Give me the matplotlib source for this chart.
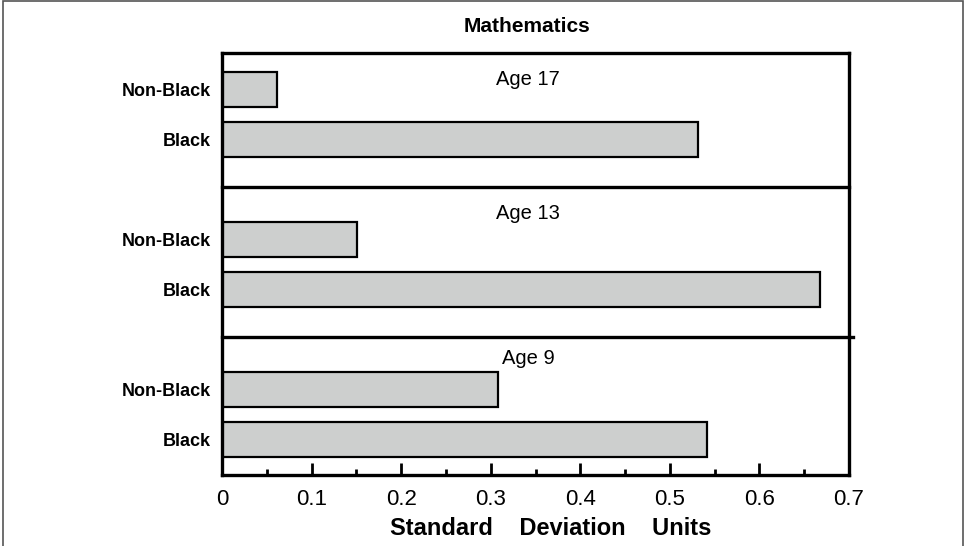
import matplotlib.pyplot as plt
from matplotlib.patches import Rectangle
import matplotlib.ticker as mticker

plt.rcParams['font.family'] = ['Liberation Sans', 'DejaVu Sans']

# data, bottom to top
groups = ['Age 9', 'Age 13', 'Age 17']
races = ['Black', 'Non-Black']
values = {
    'Age 9': [0.542, 0.308],
    'Age 13': [0.668, 0.151],
    'Age 17': [0.531, 0.061],
}
xticks = [0, 0.1, 0.2, 0.3, 0.4, 0.5, 0.6, 0.7]
xticklabels = ['0', '0.1', '0.2', '0.3', '0.4', '0.5', '0.6', '0.7']

fig = plt.figure(figsize=(9.64, 5.46), dpi=100)
ax = fig.add_axes([0.2303, 0.130, 0.6504, 0.7729])

# outer frame of the picture
fig.patches.append(Rectangle((0.003, -0.01), 0.996, 1.008, transform=fig.transFigure,
                             fill=False, edgecolor='#555555', linewidth=1.2))

ypos = []
ylabels = []
label_y = [1.62, 4.52, 7.2]
for i, g in enumerate(groups):
    base = i * 3
    for j, r in enumerate(races):
        ax.barh(base + j, values[g][j], height=0.7, color='#cdcfce',
                edgecolor='black', linewidth=1.6)
        ypos.append(base + j)
        ylabels.append(r)
    ax.text(0.3415, label_y[i], g, ha='center', va='center', fontsize=14.5)

# panel dividers
ax.plot([0, 0.705], [2.05, 2.05], color='black', linewidth=2.4, clip_on=False)
ax.plot([0, 0.7], [5.05, 5.05], color='black', linewidth=2.4, clip_on=False)

ax.set_xlim(0, 0.7)
ax.set_ylim(-0.72, 7.72)
ax.set_yticks(ypos)
ax.set_yticklabels(ylabels, fontsize=13, fontweight='bold')
ax.tick_params(axis='y', length=0, pad=8)
ax.set_xticks(xticks)
ax.set_xticklabels(xticklabels, fontsize=16)
ax.xaxis.set_minor_locator(mticker.MultipleLocator(0.05))
ax.tick_params(axis='x', which='major', direction='in', length=8.6, width=2, pad=10)
ax.tick_params(axis='x', which='minor', direction='in', length=4.3, width=2)
for s in ax.spines.values():
    s.set_linewidth(2.4)

ax.set_xlabel('Standard    Deviation    Units', fontsize=17, fontweight='bold', labelpad=5)
ax.xaxis.label.set_x(0.5247)
fig.text(527 / 964, 1 - 26.5 / 546, 'Mathematics', ha='center', va='center',
         fontsize=15, fontweight='bold')

plt.savefig('out.png', dpi=100)
